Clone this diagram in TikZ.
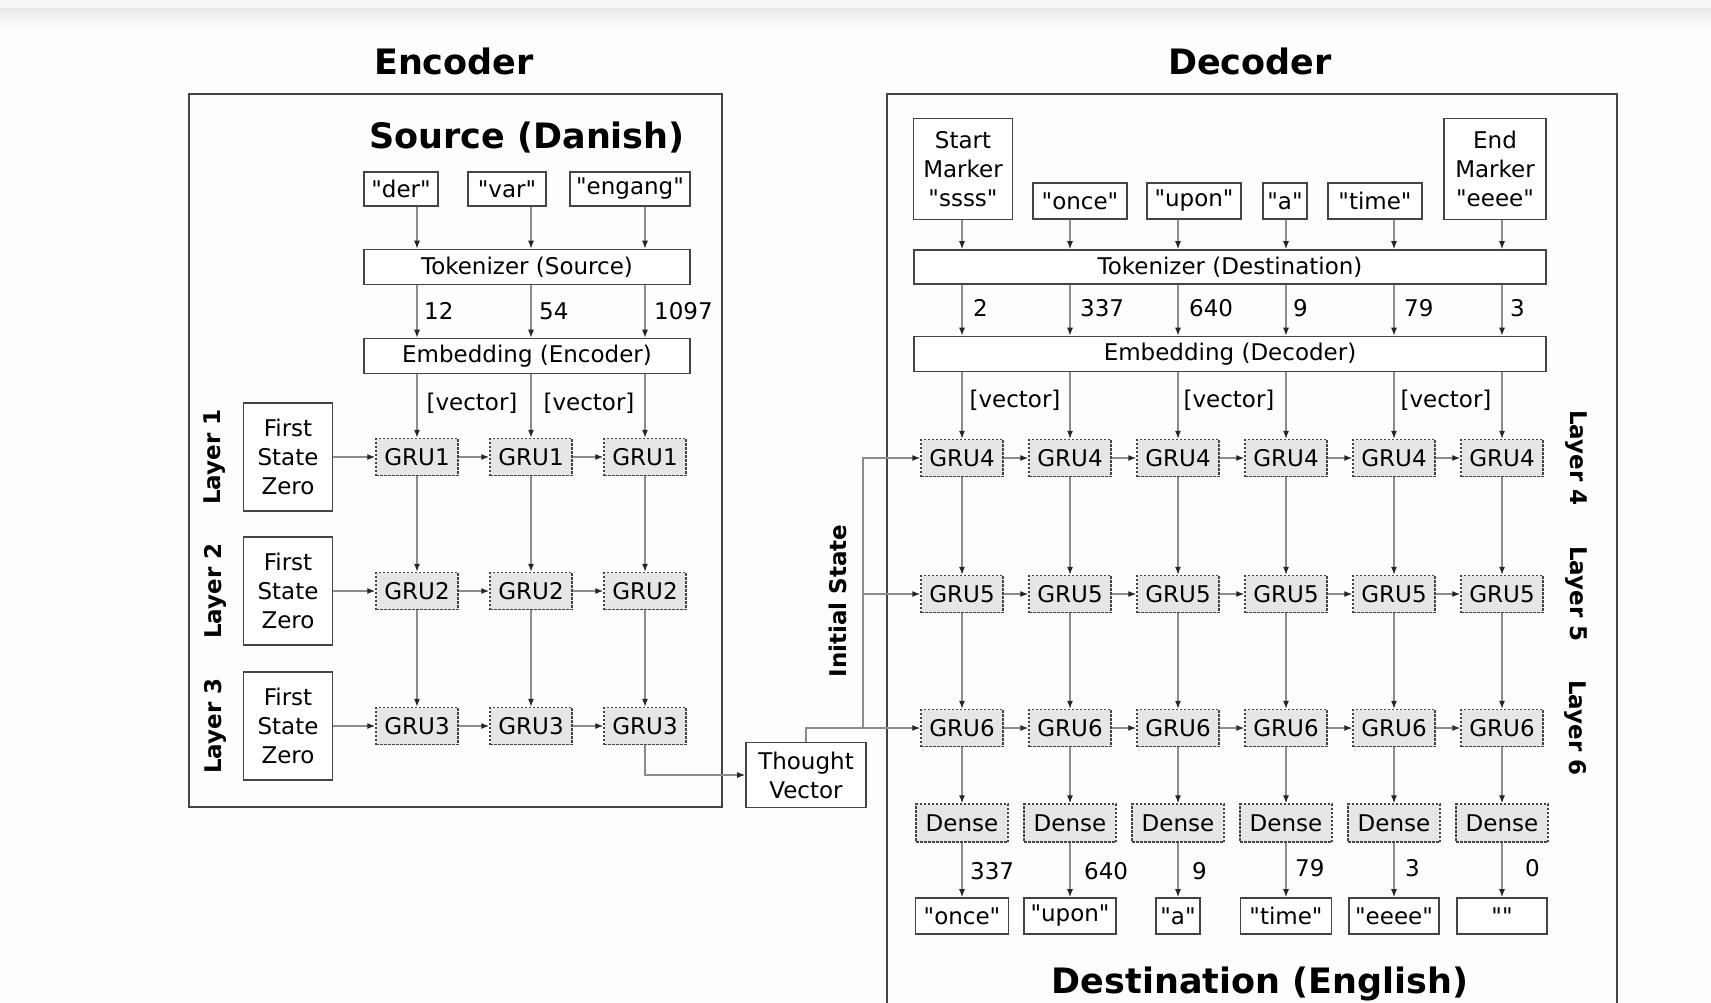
\documentclass[tikz,border=0pt]{standalone}
\usepackage{fontspec}
\setmainfont{DejaVu Sans}[Ligatures=TeXOff]
\usetikzlibrary{arrows.meta,calc}
\definecolor{boxline}{HTML}{444444}
\definecolor{conn}{HTML}{8C8C8C}
\definecolor{grufill}{HTML}{E6E6E6}
\definecolor{bg}{HTML}{FDFDFB}
\tikzset{
  txt/.style={font=\fontsize{23}{29}\selectfont},
  plain/.style={draw=boxline, line width=1.6pt, fill=white, inner sep=0pt, txt, align=center},
  gru/.style={draw=boxline, line width=1.4pt, dash pattern=on 2.5pt off 1.5pt, fill=grufill,
              minimum width=82pt, minimum height=37pt, inner sep=0pt, txt},
  dense/.style={gru, minimum width=92pt, minimum height=38pt},
  arr/.style={draw=conn, line width=1.2pt, -{Latex[length=8pt,width=6pt,color=black!85]}},
  lbl/.style={txt, inner sep=0pt},
  ttl/.style={font=\fontsize{35}{42}\selectfont\bfseries, inner sep=0pt},
  lay/.style={font=\fontsize{23}{28}\selectfont\bfseries, inner sep=0pt},
  frame/.style={draw=boxline, line width=1.8pt},
}
\begin{document}
\begin{tikzpicture}[x=1pt,y=-1pt]
\useasboundingbox (0,0) rectangle (1711,1003);
\fill[bg] (0,0) rectangle (1711,1003);
\fill[gray!7] (0,0) rectangle (1711,9);
\shade[top color=gray!16, bottom color=bg] (0,9) rectangle (1711,30);
\begin{scope}
\clip (0,0) rectangle (1711,1003);

% ---------- titles ----------
\node[ttl] (enctitle) at (454,61) {Encoder};
\node[ttl] (dectitle) at (1250,61) {Decoder};

% ---------- frames ----------
\draw[frame] (189,94) rectangle (722,807);
\draw[frame] (887,1012) -- (887,94) -- (1617,94) -- (1617,1012);

% ---------- column coordinates ----------
\coordinate (e1) at (417,0);
\coordinate (e2) at (531,0);
\coordinate (e3) at (645,0);
\coordinate (d1) at (962,0);
\coordinate (d2) at (1070,0);
\coordinate (d3) at (1178,0);
\coordinate (d4) at (1286,0);
\coordinate (d5) at (1394,0);
\coordinate (d6) at (1502,0);

% ================= ENCODER =================
\node[ttl] (src) at (527,138) {Source (Danish)};
\node[plain, minimum width=74pt, minimum height=34pt] (w1) at (401,189) {"der"};
\node[plain, minimum width=78pt, minimum height=34pt] (w2) at (507,189) {"var"};
\node[plain, minimum width=120pt, minimum height=34pt] (w3) at (630,189) {"engang"};
\node[plain, minimum width=326pt, minimum height=35pt] (tokS) at (527,267) {Tokenizer (Source)};
\node[plain, minimum width=326pt, minimum height=35pt] (embS) at (527,356) {Embedding (Encoder)};

\node[lbl, anchor=west] (n12) at (424,311) {12};
\node[lbl, anchor=west] (n54) at (539,311) {54};
\node[lbl, anchor=west] (n1097) at (654,311) {1097};
\node[lbl] (ev1) at (472,403) {[vector]};
\node[lbl] (ev2) at (589,403) {[vector]};

\foreach \r/\y in {1/457,2/591,3/726}{
  \node[plain, minimum width=89pt, minimum height=108pt] (fsz\r) at (288,\y) {First\\State\\Zero};
  \node[lay, rotate=90] (elay\r) at (215,\y) {Layer \r};
  \foreach \c in {1,2,3}{
    \node[gru] (g\r\c) at (e\c |- 0,\y) {GRU\r};
  }
}

\foreach \c in {1,2,3}{
  \draw[arr] (w\c.south -| e\c) -- (tokS.north -| e\c);
  \draw[arr] (tokS.south -| e\c) -- (embS.north -| e\c);
  \draw[arr] (embS.south -| e\c) -- (g1\c.north);
  \draw[arr] (g1\c.south) -- (g2\c.north);
  \draw[arr] (g2\c.south) -- (g3\c.north);
}
\foreach \r in {1,2,3}{
  \draw[arr] (fsz\r.east) -- (g\r1.west);
  \draw[arr] (g\r1.east) -- (g\r2.west);
  \draw[arr] (g\r2.east) -- (g\r3.west);
}

% ---------- thought vector ----------
\node[plain, minimum width=120pt, minimum height=65pt] (tv) at (806,775) {Thought\\Vector};
\draw[arr] (g33.south) |- (tv.west);
\node[lay, rotate=90] (init) at (838,601) {Initial State};

% ================= DECODER =================
\node[plain, minimum width=99pt, minimum height=101pt] (start) at (963,169) {Start\\Marker\\"ssss"};
\node[plain, minimum width=94pt, minimum height=36pt] (o2) at (1080,201) {"once"};
\node[plain, minimum width=94pt, minimum height=36pt] (o3) at (1194,201) {"upon"};
\node[plain, minimum width=44pt, minimum height=36pt] (o4) at (1285,201) {"a"};
\node[plain, minimum width=94pt, minimum height=36pt] (o5) at (1375,201) {"time"};
\node[plain, minimum width=102pt, minimum height=101pt] (endm) at (1495,169) {End\\Marker\\"eeee"};
\node[plain, minimum width=632pt, minimum height=34pt] (tokD) at (1230,267) {Tokenizer (Destination)};
\node[plain, minimum width=632pt, minimum height=35pt] (embD) at (1230,354) {Embedding (Decoder)};

\draw[arr] (start.south -| d1) -- (tokD.north -| d1);
\draw[arr] (o2.south -| d2) -- (tokD.north -| d2);
\draw[arr] (o3.south -| d3) -- (tokD.north -| d3);
\draw[arr] (o4.south -| d4) -- (tokD.north -| d4);
\draw[arr] (o5.south -| d5) -- (tokD.north -| d5);
\draw[arr] (endm.south -| d6) -- (tokD.north -| d6);

\node[lbl, anchor=west] (t1) at (973,308) {2};
\node[lbl, anchor=west] (t2) at (1080,308) {337};
\node[lbl, anchor=west] (t3) at (1189,308) {640};
\node[lbl, anchor=west] (t4) at (1293,308) {9};
\node[lbl, anchor=west] (t5) at (1404,308) {79};
\node[lbl, anchor=west] (t6) at (1510,308) {3};

\node[lbl] (dv1) at (1015,400) {[vector]};
\node[lbl] (dv2) at (1229,400) {[vector]};
\node[lbl] (dv3) at (1446,400) {[vector]};

\foreach \r/\y in {4/458,5/594,6/728}{
  \node[lay, rotate=-90] (dlay\r) at (1576,\y) {Layer \r};
  \foreach \c in {1,...,6}{
    \node[gru] (g\r\c) at (d\c |- 0,\y) {GRU\r};
  }
}
\foreach \c in {1,...,6}{
  \draw[arr] (tokD.south -| d\c) -- (embD.north -| d\c);
  \draw[arr] (embD.south -| d\c) -- (g4\c.north);
  \draw[arr] (g4\c.south) -- (g5\c.north);
  \draw[arr] (g5\c.south) -- (g6\c.north);
  \node[dense] (den\c) at (d\c |- 0,823) {Dense};
  \draw[arr] (g6\c.south) -- (den\c.north);
}
\foreach \r in {4,5,6}{
  \foreach \a/\b in {1/2,2/3,3/4,4/5,5/6}{
    \draw[arr] (g\r\a.east) -- (g\r\b.west);
  }
}

% initial state routing
\coordinate (jn) at (863,728);
\draw[arr] (tv.north) |- (g61.west);
\draw[arr] (jn) |- (g51.west);
\draw[arr] (jn) |- (g41.west);

% outputs
\node[plain, minimum width=93pt, minimum height=36pt] (out1) at (d1 |- 0,916) {"once"};
\node[plain, minimum width=92pt, minimum height=36pt] (out2) at (d2 |- 0,916) {"upon"};
\node[plain, minimum width=44pt, minimum height=36pt] (out3) at (d3 |- 0,916) {"a"};
\node[plain, minimum width=91pt, minimum height=36pt] (out4) at (d4 |- 0,916) {"time"};
\node[plain, minimum width=90pt, minimum height=36pt] (out5) at (d5 |- 0,916) {"eeee"};
\node[plain, minimum width=90pt, minimum height=36pt] (out6) at (d6 |- 0,916) {""};
\foreach \c in {1,...,6}{
  \draw[arr] (den\c.south) -- (out\c.north);
}
\node[lbl, anchor=west] (r1) at (970,871) {337};
\node[lbl, anchor=west] (r2) at (1084,871) {640};
\node[lbl, anchor=west] (r3) at (1192,871) {9};
\node[lbl, anchor=west] (r4) at (1295,868) {79};
\node[lbl, anchor=west] (r5) at (1405,868) {3};
\node[lbl, anchor=west] (r6) at (1525,868) {0};

\node[ttl] (dst) at (1260,984) {Destination (English)};
\end{scope}
\end{tikzpicture}
\end{document}
